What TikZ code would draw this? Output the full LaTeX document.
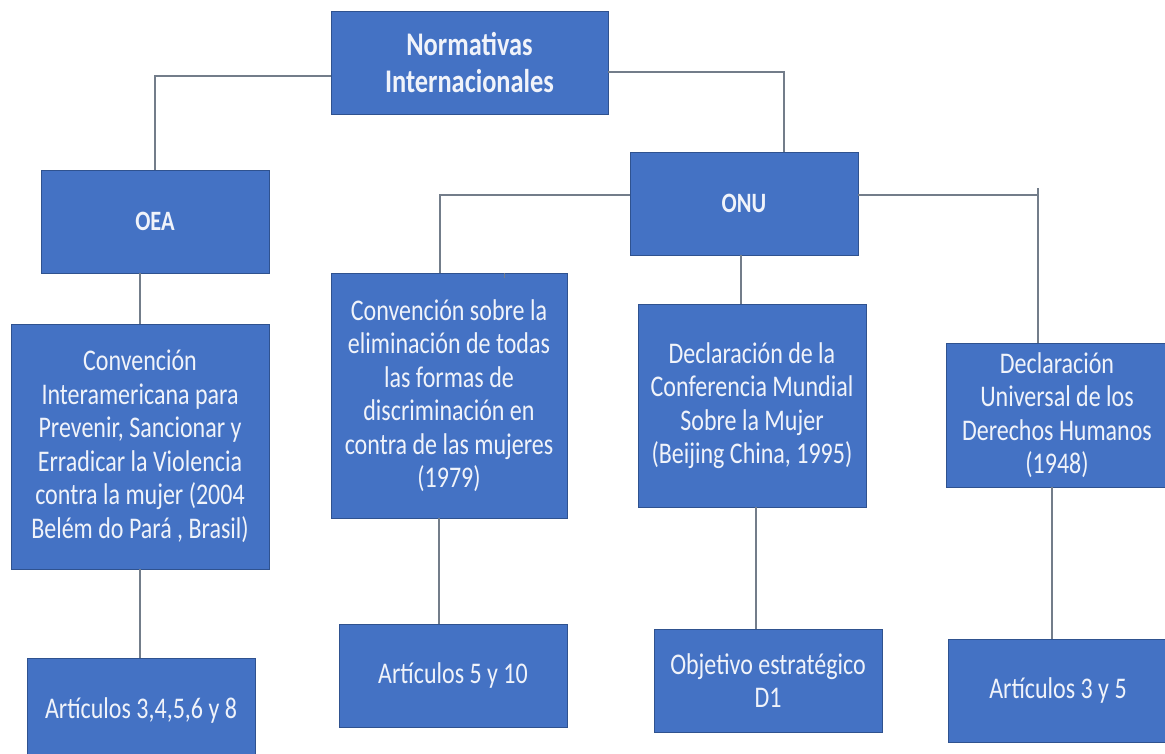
\documentclass[tikz,border=0pt]{standalone}
\usepackage{fontspec}
\setmainfont{Carlito}[FakeStretch=0.8]
\definecolor{boxblue}{RGB}{68,114,196}
\definecolor{boxedge}{RGB}{47,82,143}
\definecolor{linkgray}{RGB}{115,125,138}
\definecolor{textwhite}{RGB}{240,243,250}
\begin{document}
\begin{tikzpicture}[x=1pt,y=-1pt,
  bluebox/.style={draw=boxedge, line width=0.8pt, fill=boxblue, text=textwhite, align=center,
    inner sep=0pt, outer sep=0pt, font=\fontsize{30}{33.5}\selectfont},
  link/.style={draw=linkgray, line width=1.3pt}]
\fill[white] (0,0) rectangle (1165,754);
\useasboundingbox (0,0) rectangle (1165,754);
\clip (0,0) rectangle (1165,754);

\node[bluebox, minimum width=277pt, minimum height=103pt, font=\bfseries\fontsize{33}{36.7}\selectfont] (top) at (469.5,62.5) {Normativas\\Internacionales};
\node[bluebox, minimum width=228pt, minimum height=103pt, font=\bfseries\fontsize{28}{30}\selectfont] (oea) at (155,221.5) {OEA};
\node[bluebox, minimum width=228pt, minimum height=103pt, font=\bfseries\fontsize{28}{30}\selectfont] (onu) at (744,203.5) {ONU};

\node[bluebox, minimum width=258pt, minimum height=245pt] (convi) at (140,446.5) {Convención\\Interamericana para\\Prevenir, Sancionar y\\Erradicar la Violencia\\contra la mujer (2004\\Belém do Pará , Brasil)};
\node[bluebox, minimum width=236pt, minimum height=245pt] (convs) at (449,395.5) {Convención sobre la\\eliminación de todas\\las formas de\\discriminación en\\contra de las mujeres\\(1979)};
\node[bluebox, minimum width=228pt, minimum height=203pt] (declc) at (752,405.5) {Declaración de la\\Conferencia Mundial\\Sobre la Mujer\\(Beijing China, 1995)};
\node[bluebox, minimum width=222pt, minimum height=144pt] (declu) at (1057,415) {Declaración\\Universal de los\\Derechos Humanos\\(1948)};

\node[bluebox, minimum width=228pt, minimum height=104pt] (art1) at (141,710) {Artículos 3,4,5,6 y 8};
\node[bluebox, minimum width=228pt, minimum height=103pt] (art2) at (453,675.5) {Artículos 5 y 10};
\node[bluebox, minimum width=228pt, minimum height=103pt] (obj) at (768,680.5) {Objetivo estratégico\\D1};
\node[bluebox, minimum width=220pt, minimum height=103pt] (art3) at (1058,690.5) {Artículos 3 y 5};

% connectors
\draw[link] ([yshift=-13.5pt]top.west) -| (oea.north);
\draw[link] ([yshift=-9.5pt]top.east) -| ([xshift=40pt]onu.north);
\draw[link] (convi.north |- oea.south) -- (convi.north);
\draw[link] (convi.south) -- (convi.south |- art1.north);
\draw[link] ([yshift=8.5pt]onu.west) -| ([xshift=-9pt]convs.north);
\draw[link] ([xshift=-3pt]onu.south) -- ([xshift=-3pt]onu.south |- declc.north);
\draw[link] ([yshift=8.5pt]onu.east) -| ([xshift=-19pt]declu.north);
\draw[link] ([xshift=-19pt,yshift=5pt]declu.north |- onu.east) -- ++(0,10pt);
\draw[link] ([xshift=-10pt]convs.south) -- ([xshift=-10pt]convs.south |- art2.north);
\draw[link] ([xshift=4pt]declc.south) -- ([xshift=4pt]declc.south |- obj.north);
\draw[link] ([xshift=-5pt]declu.south) -- ([xshift=-5pt]declu.south |- art3.north);
\draw[link, line width=0.8pt] ([xshift=55pt]convs.north) -- ++(0,-5pt);
\end{tikzpicture}
\end{document}
